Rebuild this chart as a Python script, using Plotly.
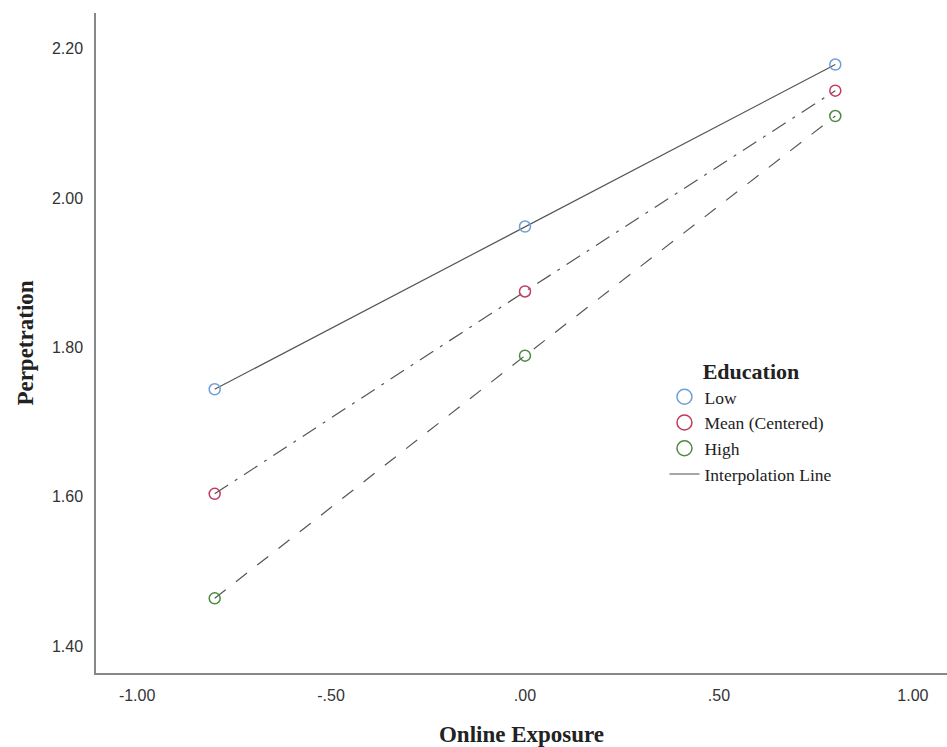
import plotly.graph_objects as go

x_vals = [-0.80, 0.00, 0.80]
low = [1.744, 1.962, 2.179]
mean_c = [1.604, 1.875, 2.144]
high = [1.464, 1.789, 2.110]

series_names = ["Low", "Mean (Centered)", "High"]
series_vals = [low, mean_c, high]
marker_colors = ["#6f9fd6", "#c23a5e", "#4c8a3e"]
dashes = ["solid", "16px,8px,3px,8px", "14px,13px"]

x_ticks = [-1.0, -0.5, 0.0, 0.5, 1.0]
x_ticklabels = ["-1.00", "-.50", ".00", ".50", "1.00"]
y_ticks = [1.4, 1.6, 1.8, 2.0, 2.2]
y_ticklabels = ["1.40", "1.60", "1.80", "2.00", "2.20"]

SERIF = "Liberation Serif, Times New Roman, serif"

fig = go.Figure()

for name, vals, dash in zip(series_names, series_vals, dashes):
    fig.add_trace(go.Scatter(
        x=x_vals, y=vals, mode="lines",
        line=dict(color="#555555", width=1.2, dash=dash),
        showlegend=False, hoverinfo="skip"))

for name, vals, col in zip(series_names, series_vals, marker_colors):
    fig.add_trace(go.Scatter(
        x=x_vals, y=vals, mode="markers", name=name, showlegend=False,
        marker=dict(symbol="circle-open", size=11, color=col, line=dict(width=1.5, color=col))))

# legend entries (larger symbols, as in the reference legend)
for name, col in zip(series_names, marker_colors):
    fig.add_trace(go.Scatter(
        x=[None], y=[None], mode="markers", name=name,
        marker=dict(symbol="circle-open", size=15, color=col, line=dict(width=1.5, color=col))))

fig.add_trace(go.Scatter(
    x=[None], y=[None], mode="lines", name="Interpolation Line",
    line=dict(color="#888888", width=1.5)))

fig.update_layout(
    width=947, height=747,
    paper_bgcolor="white", plot_bgcolor="white",
    margin=dict(l=96, r=0, t=13, b=74),
    font=dict(family="Liberation Sans, Arial, sans-serif", color="#333333"),
    xaxis=dict(
        range=[-1.106, 1.088], tickvals=x_ticks, ticktext=x_ticklabels,
        showgrid=False, zeroline=False, showline=True, linecolor="#888888", linewidth=1.5,
        ticks="", tickfont=dict(size=16, color="#333333"), ticklabelstandoff=7,
        title=dict(text="<b>Online Exposure</b>", standoff=23,
                   font=dict(family=SERIF, size=23, color="#222222"))),
    yaxis=dict(
        range=[1.364, 2.248], tickvals=y_ticks, ticktext=y_ticklabels,
        showgrid=False, zeroline=False, showline=True, linecolor="#888888", linewidth=1.5,
        ticks="", tickfont=dict(size=16, color="#333333"), ticklabelstandoff=8,
        title=dict(text="<b>Perpetration</b>", standoff=12,
                   font=dict(family=SERIF, size=23, color="#222222"))),
    legend=dict(
        x=0.668, y=0.489, xanchor="left", yanchor="top",
        bgcolor="rgba(0,0,0,0)", itemsizing="trace",
        tracegroupgap=0, itemwidth=30,
        font=dict(family=SERIF, size=17.5, color="#222222"),
        title=dict(text="<b>Education</b>", side="top center",
                   font=dict(family=SERIF, size=22, color="#222222"))),
)

fig.write_html("out.html")
